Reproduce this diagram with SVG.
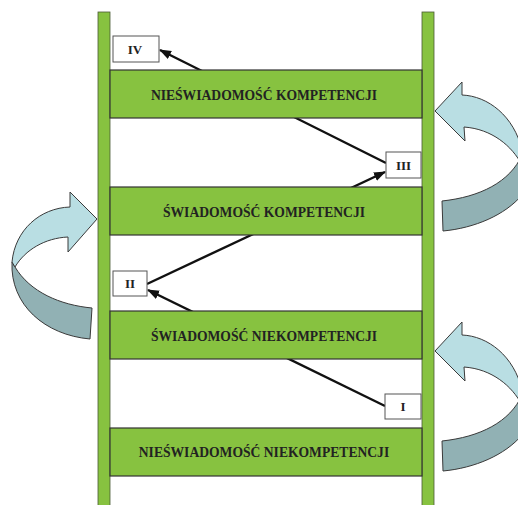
<svg xmlns="http://www.w3.org/2000/svg" width="518" height="505" viewBox="0 0 518 505">
  <style>
    .rail { fill: #87c240; stroke: #4a5a35; stroke-width: 0.8; }
    .rung { fill: #87c240; stroke: #333; stroke-width: 1.2; }
    .label { font-family: "Liberation Serif", "Times New Roman", serif; font-weight: bold; font-size: 13.6px; fill: #222; text-anchor: middle; }
    .tag rect { fill: #fff; stroke: #555; stroke-width: 1; }
    .tag text { font-family: "Liberation Serif", "Times New Roman", serif; font-weight: bold; font-size: 13px; fill: #222; text-anchor: middle; }
    .conn { stroke: #111; stroke-width: 2.4; fill: none; marker-end: url(#head); }
    .ribbon-light { fill: #b9dee3; stroke: #3a3a3a; stroke-width: 1; stroke-linejoin: miter; }
    .ribbon-dark { fill: #91b1b4; stroke: #3a3a3a; stroke-width: 1; }
  </style>
  <defs>
    <marker id="head" markerUnits="userSpaceOnUse" markerWidth="13" markerHeight="10" refX="11" refY="4.5" orient="auto">
      <path d="M0,0 L12,4.5 L0,9 Z" fill="#111"/>
    </marker>
    <!-- curved arrow on the right side, pointing left at the rail -->
    <g id="curl-right">
      <path class="ribbon-dark" d="M522,155 C510,182 480,197 442,201 L443,231 C475,228 505,215 522,195 Z"/>
      <path class="ribbon-light" d="M435,111 L462,82 L462,95 C488,96 514,116 522,150 L522,165 C512,146 492,129 464,127 L465,141 Z"/>
    </g>
  </defs>

  <rect width="518" height="505" fill="#fff"/>

  <!-- curved arrows -->
  <g id="curl-left">
    <path class="ribbon-dark" d="M12,262 C10,305 45,335 90,339 L92,308 C60,305 30,292 15,267 Z"/>
    <path class="ribbon-light" d="M97,219 L70,192 L70,207 C40,208 15,230 12,262 L15,267 C25,250 45,238 68,237 L68,252 Z"/>
  </g>
  <use id="curl-right-top" href="#curl-right"/>
  <use id="curl-right-bottom" href="#curl-right" transform="translate(0,240)"/>

  <!-- ladder rails -->
  <g id="rails">
    <rect class="rail" x="98" y="12" width="12" height="494"/>
    <rect class="rail" x="422" y="12" width="12" height="494"/>
  </g>

  <!-- connectors (pass behind the rungs) -->
  <g id="connectors">
    <line class="conn" x1="385" y1="406" x2="148" y2="290"/>
    <line class="conn" x1="147" y1="284" x2="385" y2="172"/>
    <line class="conn" x1="386" y1="163" x2="160" y2="50"/>
  </g>

  <!-- rungs -->
  <g id="rung-4">
    <rect class="rung" x="110" y="70" width="312" height="48"/>
    <text class="label" x="264" y="100">NIEŚWIADOMOŚĆ KOMPETENCJI</text>
  </g>
  <g id="rung-3">
    <rect class="rung" x="110" y="187" width="312" height="48"/>
    <text class="label" x="264" y="217">ŚWIADOMOŚĆ KOMPETENCJI</text>
  </g>
  <g id="rung-2">
    <rect class="rung" x="110" y="311" width="312" height="48"/>
    <text class="label" x="264" y="341">ŚWIADOMOŚĆ NIEKOMPETENCJI</text>
  </g>
  <g id="rung-1">
    <rect class="rung" x="110" y="428" width="312" height="48"/>
    <text class="label" x="264" y="457">NIEŚWIADOMOŚĆ NIEKOMPETENCJI</text>
  </g>

  <!-- stage tags -->
  <g id="tag-IV" class="tag">
    <rect x="113" y="36" width="46" height="26"/>
    <text x="135" y="54">IV</text>
  </g>
  <g id="tag-III" class="tag">
    <rect x="386" y="152" width="35" height="26"/>
    <text x="403.5" y="170">III</text>
  </g>
  <g id="tag-II" class="tag">
    <rect x="113" y="271" width="34" height="25"/>
    <text x="130" y="288">II</text>
  </g>
  <g id="tag-I" class="tag">
    <rect x="385" y="394" width="36" height="25"/>
    <text x="403" y="411">I</text>
  </g>
</svg>
